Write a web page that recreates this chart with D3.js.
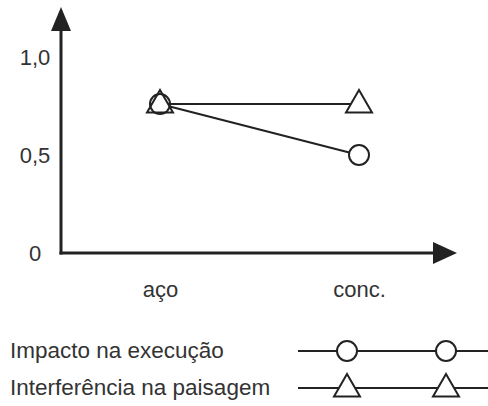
<!DOCTYPE html>
<html><head><meta charset="utf-8">
<script src="https://cdn.jsdelivr.net/npm/d3@7"></script>
<style>
html,body{margin:0;padding:0;background:#fff;}
svg{display:block;}
text{font-family:"Liberation Sans",Arial,Helvetica,sans-serif;fill:#333;}
</style></head>
<body>
<svg id="chart" width="488" height="406"></svg>
<script>
// ---- data ----
const categories = ["aço", "conc."];
const seriesNames = ["Impacto na execução", "Interferência na paisagem"];
const impactoValues = [0.76, 0.5];
const interferenciaValues = [0.76, 0.76];
const yTickValues = [0, 0.5, 1.0];
const yTickLabels = ["0", "0,5", "1,0"];
const seriesShapes = ["circle", "triangle"];

const series = [
  {name: seriesNames[0], values: impactoValues, shape: seriesShapes[0]},
  {name: seriesNames[1], values: interferenciaValues, shape: seriesShapes[1]}
];

const svg = d3.select("#chart");
const ink = "#222";

const x = d3.scalePoint().domain(categories).range([160, 359]);
const y = d3.scaleLinear().domain([0, 1]).range([253, 57]);
const axisX0 = 61;

// axes lines with arrows
const yTop = 7, xRight = 457;
svg.append("line").attr("x1", axisX0).attr("x2", axisX0)
  .attr("y1", y(0) + 1.5).attr("y2", yTop + 20)
  .attr("stroke", ink).attr("stroke-width", 3);
svg.append("path")
  .attr("d", `M${axisX0},${yTop} L${axisX0 + 10},${yTop + 24} L${axisX0 - 10},${yTop + 24} Z`)
  .attr("fill", ink);
svg.append("line").attr("x1", axisX0 - 1.5).attr("x2", xRight - 20)
  .attr("y1", y(0)).attr("y2", y(0))
  .attr("stroke", ink).attr("stroke-width", 3);
svg.append("path")
  .attr("d", `M${xRight},${y(0)} L${xRight - 24},${y(0) - 11} L${xRight - 24},${y(0) + 11} Z`)
  .attr("fill", ink);

// y axis tick labels
const yAxis = d3.axisLeft(y).tickValues(yTickValues).tickSize(0).tickPadding(0)
  .tickFormat((d, i) => yTickLabels[i]);
const gy = svg.append("g").attr("transform", `translate(35,0)`).call(yAxis);
gy.select(".domain").remove();
gy.selectAll("text")
  .attr("text-anchor", "middle").attr("x", 0).attr("dy", "0.36em")
  .style("font-family", '"Liberation Sans",Arial,sans-serif')
  .style("font-size", "22px").attr("fill", "#333");

// x axis category labels
const xAxis = d3.axisBottom(x).tickSize(0).tickPadding(0);
const gx = svg.append("g").attr("transform", `translate(0,297)`).call(xAxis);
gx.select(".domain").remove();
gx.selectAll("text")
  .attr("y", 0).attr("dy", 0)
  .style("font-family", '"Liberation Sans",Arial,sans-serif')
  .style("font-size", "22px").attr("fill", "#333");

// marker drawing
function drawMarker(g, shape, cx, cy, fill) {
  if (shape === "circle") {
    g.append("circle").attr("cx", cx).attr("cy", cy).attr("r", 10)
      .attr("fill", fill).attr("stroke", ink).attr("stroke-width", 2);
  } else {
    g.append("path")
      .attr("d", `M${cx},${cy - 14} L${cx + 13},${cy + 8.5} L${cx - 13},${cy + 8.5} Z`)
      .attr("fill", fill).attr("stroke", ink).attr("stroke-width", 2)
      .attr("stroke-linejoin", "miter");
  }
}

// lines
const line = d3.line().x((d, i) => x(categories[i])).y(d => y(d));
const plot = svg.append("g");
series.forEach(s => {
  plot.append("path").datum(s.values).attr("d", line)
    .attr("fill", "none").attr("stroke", ink).attr("stroke-width", 2);
});
// markers: triangles (white) then circles; circle over a triangle is outline only
series[1].values.forEach((v, i) => drawMarker(plot, "triangle", x(categories[i]), y(v), "#fff"));
series[0].values.forEach((v, i) => {
  const overlaps = Math.abs(v - series[1].values[i]) < 1e-9;
  drawMarker(plot, "circle", x(categories[i]), y(v), overlaps ? "none" : "#fff");
});

// legend
const legendRows = [351, 388];
const legendMarkerX = [347, 446];
const legend = svg.append("g");
series.forEach((s, k) => {
  const ly = legendRows[k];
  legend.append("text").attr("x", 10).attr("y", ly + 7)
    .style("font-size", "22.5px").text(s.name);
  legend.append("line").attr("x1", 298).attr("x2", 488).attr("y1", ly).attr("y2", ly)
    .attr("stroke", ink).attr("stroke-width", 2);
  legendMarkerX.forEach(mx => drawMarker(legend, s.shape, mx, ly, "#fff"));
});
</script>
</body></html>
